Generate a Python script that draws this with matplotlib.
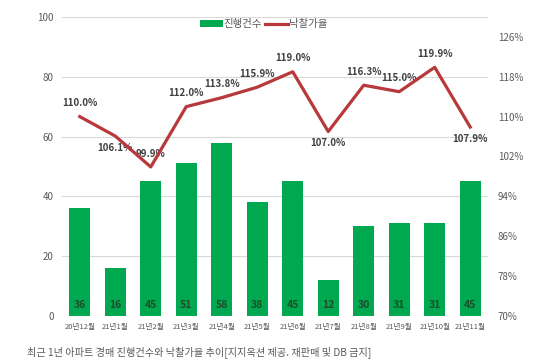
import matplotlib
matplotlib.use("Agg")
import matplotlib.pyplot as plt
from matplotlib.lines import Line2D
from matplotlib.patches import Patch

plt.rcParams["font.family"] = ["Noto Sans CJK KR", "DejaVu Sans"]

# ── Data ──────────────────────────────────────────────────────────────
months = ["20년12월", "21년1월", "21년2월", "21년3월", "21년4월", "21년5월",
          "21년6월", "21년7월", "21년8월", "21년9월", "21년10월", "21년11월"]
counts = [36, 16, 45, 51, 58, 38, 45, 12, 30, 31, 31, 45]
rates = [110.0, 106.1, 99.9, 112.0, 113.8, 115.9, 119.0, 107.0, 116.3, 115.0, 119.9, 107.9]
# label placement: +1 above the point, -1 below
label_side = [1, -1, 1, 1, 1, 1, 1, -1, 1, 1, 1, -1]

GREEN = "#00A94F"
RED = "#B8383C"
GRID = "#D9D9D9"
TICK = "#595959"

fig = plt.figure(figsize=(5.44, 3.61), dpi=100)
ax = fig.add_axes([0.114, 0.125, 0.783, 0.828])
ax2 = ax.twinx()

x = list(range(len(months)))

# ── Bars (left axis) ─────────────────────────────────────────────────
ax.bar(x, counts, width=0.58, color=GREEN, zorder=2)
for xi, v in zip(x, counts):
    ax.text(xi, 1.8, f"{v}", ha="center", va="bottom", fontsize=7.5,
            fontweight="bold", color="#1E4D2B", zorder=3)

ax.set_ylim(0, 100)
ax.set_yticks(range(0, 101, 20))
ax.set_xlim(-0.5, len(months) - 0.5)
ax.set_xticks(x)
ax.set_xticklabels(months, fontsize=5.5, color="#404040")
ax.grid(True, axis="y", color=GRID, linewidth=0.8, zorder=0)
ax.set_axisbelow(True)

# ── Line (right axis) ────────────────────────────────────────────────
ax2.plot(x, rates, color=RED, linewidth=2.3, zorder=4)
for xi, v, s in zip(x, rates, label_side):
    ax2.annotate(f"{v:.1f}%", (xi, v), textcoords="offset points",
                 xytext=(0, 6 if s > 0 else -5),
                 ha="center", va="bottom" if s > 0 else "top",
                 fontsize=7, fontweight="bold", color="#404040")
ax2.set_ylim(70, 130)
ax2.set_yticks(range(70, 127, 8))
ax2.set_yticklabels([f"{t}%" for t in range(70, 127, 8)])

for a in (ax, ax2):
    for sp in a.spines.values():
        sp.set_visible(False)
    a.tick_params(length=0, labelsize=7, colors=TICK)
ax.tick_params(axis="x", labelsize=5.5, pad=5)
ax.tick_params(axis="y", pad=6)
ax2.tick_params(axis="y", pad=7)
ax.axhline(0, color=GRID, linewidth=0.8)

# ── Legend ────────────────────────────────────────────────────────────
handles = [Patch(facecolor=GREEN, label="진행건수"),
           Line2D([0], [0], color=RED, linewidth=2.3, label="낙찰가율")]
fig.legend(handles=handles, loc="center", bbox_to_anchor=(0.485, 0.933),
           ncol=2, frameon=False, fontsize=7.5, handlelength=2.2,
           handleheight=0.6, columnspacing=0.3, handletextpad=0.1,
           labelcolor="#595959")

fig.text(0.05, 0.025, "최근 1년 아파트 경매 진행건수와 낙찰가율 추이[지지옥션 제공. 재판매 및 DB 금지]",
         fontsize=7.3, color="#595959", ha="left", va="center")

fig.savefig("out.png", dpi=100)
